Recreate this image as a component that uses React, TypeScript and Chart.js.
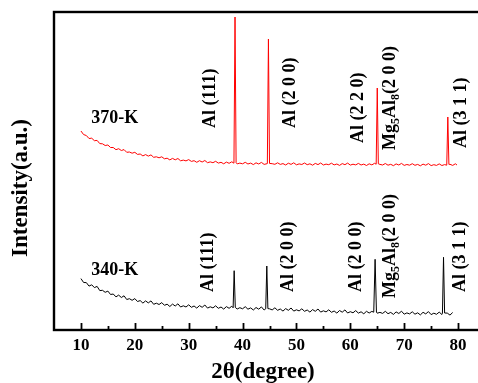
import { useEffect, useRef } from "react";
import { Chart, registerables } from "chart.js";

Chart.register(...registerables);

const FONT = '"Liberation Serif", "Times New Roman", serif';

// 2θ (degree) vs intensity (a.u.) for the 370-K sample (red)
const red370: [number, number][] = [
  [10,1990],[10.5,1954],[11,1945],[11.5,1915],[12,1918],[12.5,1893],[13,1896],[13.5,1864],[14,1862],[14.5,1845],
  [15,1850],[15.5,1825],[16,1825],[16.5,1803],[17,1813],[17.5,1795],[18,1804],[18.5,1777],[19,1780],[19.5,1768],
  [20,1777],[20.5,1756],[21,1760],[21.5,1741],[22,1754],[22.5,1739],[23,1751],[23.5,1727],[24,1732],[24.5,1722],
  [25,1732],[25.5,1712],[26,1718],[26.5,1701],[27,1716],[27.5,1702],[28,1715],[28.5,1692],[29,1699],[29.5,1691],
  [30,1704],[30.5,1686],[31,1693],[31.5,1677],[32,1693],[32.5,1680],[33,1695],[33.5,1673],[34,1681],[34.5,1673],
  [35,1687],[35.5,1669],[36,1677],[36.5,1662],[37,1679],[37.5,1667],[38,1682],[38.4,1668],[38.6,3130],[38.8,1672],
  [39,1661],[39.5,1669],[40,1662],[40.5,1677],[41,1660],[41.5,1669],[42,1654],[42.5,1672],[43,1660],[43.5,1676],
  [44,1656],[44.6,1664],[44.8,2910],[45,1666],[45.5,1663],[46,1657],[46.5,1672],[47,1656],[47.5,1664],[48,1650],
  [48.5,1668],[49,1656],[49.5,1672],[50,1652],[50.5,1661],[51,1655],[51.5,1670],[52,1653],[52.5,1662],[53,1648],
  [53.5,1666],[54,1654],[54.5,1670],[55,1650],[55.5,1659],[56,1653],[56.5,1668],[57,1651],[57.5,1660],[58,1646],
  [58.5,1664],[59,1653],[59.5,1669],[60,1649],[60.5,1658],[61,1651],[61.5,1666],[62,1650],[62.5,1659],[63,1645],
  [63.5,1662],[64,1651],[64.5,1667],[64.8,1658],[65,2420],[65.2,1662],[65.5,1656],[66,1650],[66.5,1665],[67,1648],
  [67.5,1657],[68,1643],[68.5,1661],[69,1650],[69.5,1666],[70,1646],[70.5,1655],[71,1648],[71.5,1663],[72,1647],
  [72.5,1656],[73,1642],[73.5,1659],[74,1648],[74.5,1664],[75,1644],[75.5,1653],[76,1646],[76.5,1661],[77,1645],
  [77.5,1654],[77.9,1648],[78.1,2130],[78.3,1656],[78.5,1657],[79,1646],[79.5,1662],[79.8,1650],
];

// 2θ (degree) vs intensity (a.u.) for the 340-K sample (black)
const black340: [number, number][] = [
  [10,514],[10.5,475],[11,474],[11.5,439],[12,452],[12.5,424],[13,436],[13.5,394],[14,397],[14.5,377],
  [15,389],[15.5,355],[16,360],[16.5,331],[17,349],[17.5,325],[18,342],[18.5,305],[19,313],[19.5,297],
  [20,314],[20.5,285],[21,294],[21.5,269],[22,291],[22.5,271],[23,291],[23.5,257],[24,268],[24.5,255],
  [25,274],[25.5,247],[26,258],[26.5,235],[27,259],[27.5,240],[28,262],[28.5,230],[29,242],[29.5,230],
  [30,252],[30.5,227],[31,240],[31.5,219],[32,244],[32.5,227],[33,250],[33.5,219],[34,232],[34.5,221],
  [35,242],[35.5,217],[36,230],[36.5,209],[37,234],[37.5,217],[38,238],[38.25,222],[38.44,593],[38.65,226],
  [39,210],[39.5,223],[40,212],[40.5,233],[41,208],[41.5,221],[42,200],[42.5,225],[43,208],[43.5,231],
  [44,200],[44.3,212],[44.5,640],[44.7,214],[45,212],[45.5,201],[46,222],[46.5,197],[47,210],[47.5,189],
  [48,214],[48.5,197],[49,220],[49.5,189],[50,202],[50.5,191],[51,212],[51.5,187],[52,200],[52.5,179],
  [53,204],[53.5,187],[54,210],[54.5,179],[55,192],[55.5,181],[56,202],[56.5,177],[57,190],[57.5,169],
  [58,195],[58.5,178],[59,201],[59.5,170],[60,183],[60.5,172],[61,194],[61.5,169],[62,182],[62.5,162],
  [63,187],[63.5,170],[64,186],[64.35,178],[64.6,707],[64.85,180],[65,168],[65.5,176],[66,166],[66.5,187],
  [67,163],[67.5,176],[68,156],[68.5,181],[69,165],[69.5,188],[70,158],[70.5,171],[71,161],[71.5,182],
  [72,158],[72.5,172],[73,151],[73.5,177],[74,161],[74.5,184],[75,154],[75.5,168],[76,157],[76.5,179],
  [77,155],[77.1,168],[77.3,727],[77.5,170],[78,169],[78.5,149],[79,175],
];

const xTickValues = [10, 20, 30, 40, 50, 60, 70, 80];
const xMinorTickValues = [15, 25, 35, 45, 55, 65, 75];

// peak labels: text ("_d" = subscript), 2θ of text centre, intensity where text starts
const labels370Text = ["Al (111)", "Al (2 0 0)", "Al (2 2 0)", "Mg_5Al_8(2 0 0)", "Al (3 1 1)"];
const labels370X = [34.0, 48.9, 61.5, 67.4, 80.7];
const labels370Y = [2020, 2020, 1870, 1800, 1820];

const labels340Text = ["Al (111)", "Al (2 0 0)", "Al (2 0 0)", "Mg_5Al_8(2 0 0)", "Al (3 1 1)"];
const labels340X = [33.7, 48.5, 61.1, 67.4, 80.4];
const labels340Y = [380, 380, 380, 320, 380];

const seriesNames = ["370-K", "340-K"];
const seriesNameX = [11.9, 11.9];
const seriesNameY = [2120, 600];

function parseSegments(text: string) {
  const segs: { t: string; sub: boolean }[] = [];
  const re = /_(\d)/g;
  let last = 0;
  let m: RegExpExecArray | null;
  while ((m = re.exec(text))) {
    if (m.index > last) segs.push({ t: text.slice(last, m.index), sub: false });
    segs.push({ t: m[1], sub: true });
    last = m.index + m[0].length;
  }
  if (last < text.length) segs.push({ t: text.slice(last), sub: false });
  return segs;
}

function drawRotated(ctx: CanvasRenderingContext2D, text: string, px: number, py: number, size: number) {
  ctx.save();
  ctx.translate(px, py);
  ctx.rotate(-Math.PI / 2);
  ctx.textAlign = "left";
  ctx.textBaseline = "middle";
  let cx = 0;
  for (const s of parseSegments(text)) {
    if (s.sub) {
      ctx.font = `bold ${Math.round(size * 0.68)}px ${FONT}`;
      ctx.fillText(s.t, cx, size * 0.32);
    } else {
      ctx.font = `bold ${size}px ${FONT}`;
      ctx.fillText(s.t, cx, 0);
    }
    cx += ctx.measureText(s.t).width;
  }
  ctx.restore();
}

const decorPlugin = {
  id: "xrdDecor",
  afterDraw(chart: any) {
    const { ctx, chartArea, scales } = chart;
    const { left, right, top, bottom } = chartArea;
    const x = scales.x;
    const y = scales.y;
    ctx.save();
    ctx.fillStyle = "#000";
    ctx.strokeStyle = "#000";
    // frame
    ctx.lineWidth = 2.4;
    ctx.strokeRect(left, top, right - left, bottom - top);
    // inward ticks
    ctx.lineWidth = 1.8;
    ctx.beginPath();
    for (const v of xTickValues) {
      const px = Math.round(x.getPixelForValue(v)) + 0.5;
      ctx.moveTo(px, bottom);
      ctx.lineTo(px, bottom - 7);
    }
    for (const v of xMinorTickValues) {
      const px = Math.round(x.getPixelForValue(v)) + 0.5;
      ctx.moveTo(px, bottom);
      ctx.lineTo(px, bottom - 4);
    }
    ctx.stroke();

    // peak labels
    labels370Text.forEach((t, i) => {
      drawRotated(ctx, t, x.getPixelForValue(labels370X[i]), y.getPixelForValue(labels370Y[i]), 18);
    });
    labels340Text.forEach((t, i) => {
      drawRotated(ctx, t, x.getPixelForValue(labels340X[i]), y.getPixelForValue(labels340Y[i]), 18);
    });

    // series names
    ctx.font = `bold 18px ${FONT}`;
    ctx.textAlign = "left";
    ctx.textBaseline = "middle";
    seriesNames.forEach((n, i) => {
      ctx.fillText(n, x.getPixelForValue(seriesNameX[i]), y.getPixelForValue(seriesNameY[i]));
    });

    // axis titles
    ctx.font = `bold 23px ${FONT}`;
    ctx.textAlign = "center";
    ctx.textBaseline = "middle";
    ctx.fillText("2θ(degree)", left + 209, bottom + 42);
    ctx.save();
    ctx.translate(left - 33, (top + bottom) / 2 + 17);
    ctx.rotate(-Math.PI / 2);
    ctx.fillText("Intensity(a.u.)", 0, 0);
    ctx.restore();

    ctx.restore();
  },
};

export default function App() {
  const canvasRef = useRef<HTMLCanvasElement | null>(null);

  useEffect(() => {
    const canvas = canvasRef.current;
    if (!canvas) return;
    const chart = new Chart(canvas, {
      type: "line",
      data: {
        datasets: [
          {
            label: "370-K",
            data: red370.map(([a, b]) => ({ x: a, y: b })),
            borderColor: "#ff0000",
            borderWidth: 1,
            pointRadius: 0,
            tension: 0,
          },
          {
            label: "340-K",
            data: black340.map(([a, b]) => ({ x: a, y: b })),
            borderColor: "#000000",
            borderWidth: 1,
            pointRadius: 0,
            tension: 0,
          },
        ],
      },
      options: {
        animation: false,
        responsive: false,
        devicePixelRatio: 1,
        layout: { padding: { left: 0, top: 12, right: 15, bottom: 0 } },
        plugins: { legend: { display: false }, tooltip: { enabled: false } },
        scales: {
          x: {
            type: "linear",
            min: 5,
            max: 85,
            grid: { display: false, drawTicks: false },
            border: { display: false },
            afterBuildTicks: (scale: any) => {
              scale.ticks = xTickValues.map((v) => ({ value: v }));
            },
            afterFit: (scale: any) => {
              scale.height = 53;
            },
            ticks: {
              color: "#000",
              padding: 5,
              maxRotation: 0,
              font: { family: FONT, size: 17, weight: "bold" },
            },
          },
          y: {
            min: 0,
            max: 3180,
            grid: { display: false, drawTicks: false },
            border: { display: false },
            ticks: { display: false },
            afterFit: (scale: any) => {
              scale.width = 54;
            },
          },
        },
      },
      plugins: [decorPlugin],
    });
    return () => chart.destroy();
  }, []);

  return (
    <div style={{ position: "absolute", left: 0, top: 0, width: 478, height: 383, overflow: "hidden", background: "#fff" }}>
      <canvas ref={canvasRef} width={500} height={383} style={{ display: "block", width: 500, height: 383 }} />
    </div>
  );
}
